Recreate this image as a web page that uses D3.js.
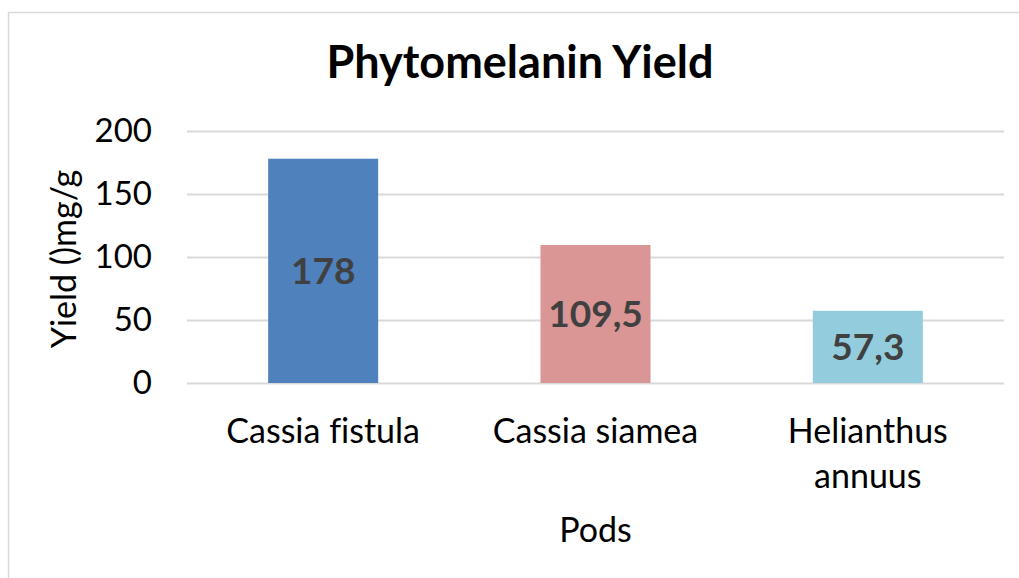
<!DOCTYPE html>
<html>
<head>
<meta charset="utf-8">
<script src="https://cdn.jsdelivr.net/npm/d3@7"></script>
<style>
  html, body { margin: 0; padding: 0; background: #fff; }
  svg { display: block; }
  text { font-family: Lato, "Open Sans", sans-serif; font-variant-ligatures: none; }
</style>
</head>
<body>
<svg id="chart" width="1019" height="578"></svg>
<script>
// Phytomelanin yield per pod source (mg/g)
const categories = ["Cassia fistula", "Cassia siamea", "Helianthus annuus"];
const categoryLines = [["Cassia fistula"], ["Cassia siamea"], ["Helianthus", "annuus"]];
const values = [178, 109.5, 57.3];
const valueLabels = ["178", "109,5", "57,3"];
const barColors = ["#4F81BD", "#D99694", "#93CDDD"];
const yTicks = [0, 50, 100, 150, 200];

const svg = d3.select("#chart");
const W = 1019, H = 578;
const margin = { left: 187, right: 15, top: 131, bottom: 195 };
const plotW = W - margin.left - margin.right;
const plotH = H - margin.top - margin.bottom;

// chart frame (only top/left edges fall inside the view)
svg.append("rect")
  .attr("x", 8.5).attr("y", 12.5)
  .attr("width", 1030).attr("height", 600)
  .attr("fill", "#fff")
  .attr("stroke", "#D9D9D9").attr("stroke-width", 1.5);

const x = d3.scaleBand()
  .domain(categories)
  .range([0, plotW])
  .paddingInner(0.596)
  .paddingOuter(0.298);

const y = d3.scaleLinear()
  .domain([0, 200])
  .range([plotH, 0]);

const g = svg.append("g").attr("transform", `translate(${margin.left},${margin.top})`);

// horizontal gridlines + value axis labels
const yAxis = d3.axisLeft(y).tickValues(yTicks).tickSize(-plotW).tickPadding(35).tickFormat(d3.format("d"));
const yg = g.append("g").call(yAxis);
yg.select(".domain").remove();
yg.selectAll(".tick line").attr("stroke", "#D9D9D9").attr("stroke-width", 2);
yg.selectAll(".tick text")
  .attr("font-size", 33).attr("fill", "#000")
  .attr("font-family", "Lato, sans-serif");

// bars
g.selectAll("rect.bar")
  .data(values)
  .join("rect")
  .attr("class", "bar")
  .attr("x", (d, i) => x(categories[i]))
  .attr("y", d => y(d))
  .attr("width", x.bandwidth())
  .attr("height", d => y(0) - y(d))
  .attr("fill", (d, i) => barColors[i]);

// value labels centred inside each bar
g.selectAll("text.val")
  .data(values)
  .join("text")
  .attr("class", "val")
  .attr("x", (d, i) => x(categories[i]) + x.bandwidth() / 2)
  .attr("y", d => (y(d) + y(0)) / 2)
  .attr("dy", "0.36em")
  .attr("text-anchor", "middle")
  .attr("font-size", 37).attr("font-weight", "bold")
  .attr("fill", "#404040")
  .text((d, i) => valueLabels[i]);

// category labels
const catG = g.append("g").attr("transform", `translate(0,${plotH})`);
categories.forEach((c, i) => {
  const t = catG.append("text")
    .attr("x", x(c) + x.bandwidth() / 2)
    .attr("y", 60)
    .attr("text-anchor", "middle")
    .attr("font-size", 34)
    .attr("fill", "#000");
  categoryLines[i].forEach((line, j) => {
    t.append("tspan")
      .attr("x", x(c) + x.bandwidth() / 2)
      .attr("dy", j === 0 ? 0 : 45)
      .text(line);
  });
});

// axis titles
svg.append("text")
  .attr("x", margin.left + plotW / 2)
  .attr("y", 542)
  .attr("text-anchor", "middle")
  .attr("font-size", 34)
  .attr("fill", "#000")
  .text("Pods");

svg.append("text")
  .attr("transform", `translate(76,259) rotate(-90)`)
  .attr("text-anchor", "middle")
  .attr("font-size", 34)
  .attr("fill", "#000")
  .text("Yield ()mg/g");

// chart title
svg.append("text")
  .attr("x", 520)
  .attr("y", 78)
  .attr("text-anchor", "middle")
  .attr("font-size", 45)
  .attr("font-weight", "bold")
  .attr("fill", "#000")
  .text("Phytomelanin Yield");
</script>
</body>
</html>
